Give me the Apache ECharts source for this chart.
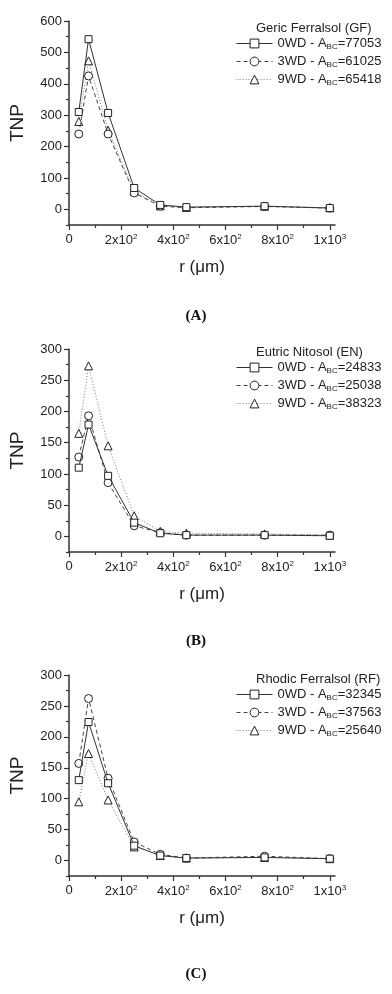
<!DOCTYPE html>
<html>
<head>
<meta charset="utf-8">
<script src="https://cdn.jsdelivr.net/npm/echarts@6/dist/echarts.min.js"></script>
<style>
  html, body { margin: 0; padding: 0; background: #fff; }
  #chart { width: 392px; height: 994px; }
</style>
</head>
<body>
<div id="chart"></div>
<script>
// radius of the sieve classes (um)
const radii = [37.5, 75, 150, 250, 350, 450, 750, 1000];
const xTicks = [0, 200, 400, 600, 800, 1000];
const xMinorTicks = [100, 300, 500, 700, 900];

// (A) Geric Ferralsol
const gf0 = [310, 542, 307, 68, 14, 7, 10, 4];
const gf3 = [240, 425, 240, 52, 10, 5, 9, 4];
const gf9 = [280, 473, 252, 57, 11, 6, 10, 5];
const gfArea = [77053, 61025, 65418];
const gfTicks = [0, 100, 200, 300, 400, 500, 600];
const gfMinor = [-50, 50, 150, 250, 350, 450, 550];

// (B) Eutric Nitosol
const en0 = [110, 179, 97, 22, 5, 2, 2, 1];
const en3 = [127, 193, 86, 17, 6, 2, 2, 2];
const en9 = [165, 273, 145, 33, 8, 5, 4, 2];
const enArea = [24833, 25038, 38323];

// (C) Rhodic Ferralsol
const rf0 = [130, 224, 125, 24, 8, 4, 5, 3];
const rf3 = [157, 262, 133, 30, 10, 4, 7, 3];
const rf9 = [95, 173, 98, 22, 8, 4, 5, 3];
const rfArea = [32345, 37563, 25640];
const smallTicks = [0, 50, 100, 150, 200, 250, 300];
const smallMinor = [-25, 25, 75, 125, 175, 225, 275];

const weeks = ["0WD", "3WD", "9WD"];

const panels = [
  { title: "Geric Ferralsol (GF)", tag: "(A)", sets: [gf0, gf3, gf9], area: gfArea,
    top: 21, height: 204, ymin: -50, ymax: 600, ticks: gfTicks, minor: gfMinor,
    tagY: 304, titleTop: 17, legendTop: 37 },
  { title: "Eutric Nitosol (EN)", tag: "(B)", sets: [en0, en3, en9], area: enArea,
    top: 349, height: 203, ymin: -25, ymax: 300, ticks: smallTicks, minor: smallMinor,
    tagY: 629, titleTop: 341, legendTop: 361 },
  { title: "Rhodic Ferralsol (RF)", tag: "(C)", sets: [rf0, rf3, rf9], area: rfArea,
    top: 675, height: 201, ymin: -25, ymax: 300, ticks: smallTicks, minor: smallMinor,
    tagY: 962, titleTop: 668, legendTop: 688 }
];

const symbols = ["rect", "circle", "triangle"];
const lineTypes = ["solid", [4, 3], [1, 2]];
const lineColors = ["#333", "#444", "#777"];
const font = "Liberation Sans, Arial, sans-serif";
const axisColor = "#333";

function xLabel(v) {
  if (v === 0) return "0";
  if (v === 1000) return "1x10{p|3}";
  return (v / 100) + "x10{p|2}";
}

const option = {
  animation: false,
  backgroundColor: "#fff",
  title: [], legend: [], grid: [], xAxis: [], yAxis: [], series: []
};

panels.forEach((p, i) => {
  option.grid.push({ left: 67, width: 268, top: p.top, height: p.height });

  option.xAxis.push({
    type: "value", gridIndex: i, position: "bottom", min: 0, max: 1020,
    name: "r (\u03bcm)", nameLocation: "middle", nameGap: 34,
    nameTextStyle: { fontFamily: font, fontSize: 17, color: "#222" },
    axisLine: { onZero: false, lineStyle: { color: axisColor, width: 1.5 } },
    axisTick: { length: 5, customValues: xTicks, lineStyle: { color: axisColor, width: 1.2 } },
    axisLabel: {
      customValues: xTicks, margin: 8, formatter: xLabel,
      fontFamily: font, fontSize: 13, color: "#222",
      rich: { p: { fontSize: 8, verticalAlign: "top", padding: [0, 0, 7, 0] } }
    },
    splitLine: { show: false }
  });
  // minor ticks, same scale
  option.xAxis.push({
    type: "value", gridIndex: i, position: "bottom", min: 0, max: 1020,
    axisLine: { show: false, onZero: false },
    axisTick: { length: 3, customValues: xMinorTicks, lineStyle: { color: axisColor, width: 1.2 } },
    axisLabel: { show: false }, splitLine: { show: false }
  });

  option.yAxis.push({
    type: "value", gridIndex: i, position: "left", min: p.ymin, max: p.ymax,
    name: "TNP", nameLocation: "middle", nameGap: 42, nameRotate: 90,
    nameTextStyle: { fontFamily: font, fontSize: 19, color: "#222" },
    axisLine: { show: true, onZero: false, lineStyle: { color: axisColor, width: 1.5 } },
    axisTick: { show: true, length: 5, customValues: p.ticks, lineStyle: { color: axisColor, width: 1.2 } },
    axisLabel: { customValues: p.ticks, margin: 7, fontFamily: font, fontSize: 13, color: "#222" },
    splitLine: { show: false }
  });
  option.yAxis.push({
    type: "value", gridIndex: i, position: "left", min: p.ymin, max: p.ymax,
    axisLine: { show: false, onZero: false },
    axisTick: { show: true, length: 3, customValues: p.minor, lineStyle: { color: axisColor, width: 1.2 } },
    axisLabel: { show: false }, splitLine: { show: false }
  });

  const names = [];
  p.sets.forEach((vals, k) => {
    const name = weeks[k] + " - A_BC=" + p.area[k];
    names.push(name);
    option.series.push({
      name: name, type: "line",
      xAxisIndex: i * 2, yAxisIndex: i * 2,
      data: radii.map((r, j) => [r, vals[j]]),
      symbol: symbols[k], symbolSize: k === 0 ? 7 : 8,
      itemStyle: { color: "#fff", borderColor: "#222", borderWidth: 1 },
      lineStyle: { color: lineColors[k], width: 1, type: lineTypes[k] },
      z: 3 - k
    });
  });

  // soil name above the legend
  option.title.push({
    text: p.title, left: 251, top: p.titleTop,
    textStyle: { fontFamily: font, fontSize: 13, fontWeight: "normal", color: "#222" }
  });
  // panel tag
  option.title.push({
    text: p.tag, left: "center", top: p.tagY,
    textStyle: { fontFamily: "Liberation Serif, serif", fontSize: 15, fontWeight: "bold", color: "#111" }
  });

  option.legend.push({
    data: names, orient: "vertical", left: 236, top: p.legendTop,
    itemWidth: 36, itemHeight: 11, itemGap: 4, padding: 0,
    lineStyle: { width: 1 },
    itemStyle: { borderWidth: 1 },
    formatter: n => n.replace("A_BC", "A{s|BC}"),
    textStyle: {
      fontFamily: font, fontSize: 13, color: "#222",
      rich: { s: { fontSize: 8, verticalAlign: "bottom", padding: [7, 0, 0, 0] } }
    }
  });
});

const chart = echarts.init(document.getElementById("chart"));
chart.setOption(option);
</script>
</body>
</html>
